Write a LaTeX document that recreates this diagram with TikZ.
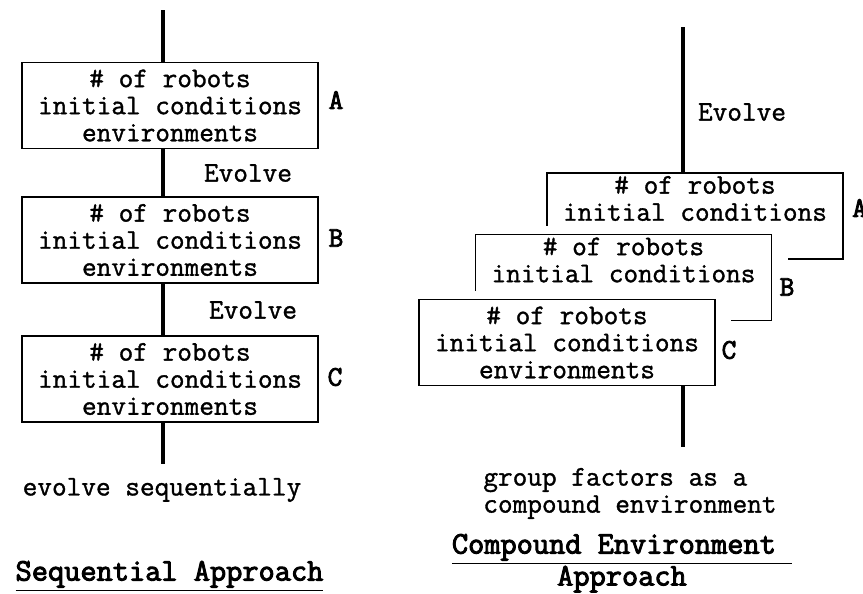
\documentclass[tikz,border=0pt]{standalone}
\usepackage{fontspec}
\setmonofont{Latin Modern Mono}[BoldFont={Latin Modern Mono},
    UprightFeatures={FakeBold=1.2}, BoldFeatures={FakeBold=3}]
\renewcommand{\familydefault}{\ttdefault}
\usepackage {tikz}
\usetikzlibrary {positioning}
\usetikzlibrary{shapes,arrows}
\tikzstyle{block} = [rectangle, draw, fill=white, line width=0.75pt,
    minimum width=5.92cm, minimum height=1.72cm, align=center, inner sep=0pt,
    font=\fontsize{16.2}{15.4}\selectfont]
\tikzstyle{mask} = [rectangle, fill=white, inner sep=0pt,
    minimum width=6.56cm, minimum height=2.08cm]
\tikzstyle{line} = [draw, line width=2.3pt]
\tikzstyle{tag} = [font=\fontsize{16.2}{15.4}\selectfont\bfseries]
\tikzstyle{note} = [font=\fontsize{16.2}{15.4}\selectfont]
\tikzstyle{title} = [font=\fontsize{17.9}{17.1}\selectfont\bfseries, align=center]

\begin{document}
\begin{tikzpicture}[node distance = 2.69cm, auto]
    \useasboundingbox (0,0) rectangle (17.26,-11.86);
    % Sequential approach
    \node [block] (seqa) at (3.40,-2.11) {\# of robots\\initial conditions\\environments};
    \node [block, below of=seqa] (seqb) {\# of robots\\initial conditions\\environments};
    \node [block, below of=seqb, node distance=2.78cm] (seqc) {\# of robots\\initial conditions\\environments};
    \coordinate (seqtop) at (3.26,-0.20);
    \coordinate (seqend) at (3.26,-9.28);
    \node [tag] (taga) at (6.72,-2.00) {A};
    \node [tag] (tagb) at (6.72,-4.76) {B};
    \node [tag] (tagc) at (6.70,-7.54) {C};
    \node [note] (evo1) at (4.96,-3.46) {Evolve};
    \node [note] (evo2) at (5.06,-6.20) {Evolve};
    \node [note] (seqnote) at (3.24,-9.80) {evolve sequentially};
    \node [title] (seqtitle) at (3.39,-11.52) {\underline{Sequential Approach}};

    % Compound environment approach
    \node [block] (cmpa) at (13.90,-4.32) {\# of robots\\initial conditions\\\strut};
    \node [mask] (maskb) at (12.47,-5.55) {};
    \node [block] (cmpb) at (12.47,-5.55) {\# of robots\\initial conditions\\\strut};
    \node [mask] (maskc) at (11.34,-6.85) {};
    \node [block] (cmpc) at (11.34,-6.85) {\# of robots\\initial conditions\\environments};
    \coordinate (cmptop) at (13.66,-0.54);
    \coordinate (cmpend) at (13.66,-8.94);
    \node [tag] (cmptaga) at (17.19,-4.16) {A};
    \node [tag] (cmptagb) at (15.74,-5.74) {B};
    \node [tag] (cmptagc) at (14.58,-7.00) {C};
    \node [note] (evo3) at (14.84,-2.24) {Evolve};
    \node [note, align=left, anchor=west, inner sep=0pt] (cmpnote) at (9.66,-9.87)
        {group factors as a\\compound environment};
    \node [title] (cmptitle) at (12.44,-11.30)
        {\underline{Compound Environment~}\\\underline{Approach}};

    % Draw edges
    \path [line] (seqtop) -- (seqtop |- seqa.north);
    \path [line] (seqa.south -| seqtop) -- (seqb.north -| seqtop);
    \path [line] (seqb.south -| seqtop) -- (seqc.north -| seqtop);
    \path [line] (seqc.south -| seqtop) -- (seqend);
    \path [line] (cmptop) -- (cmptop |- cmpa.north);
    \path [line] (cmpc.south -| cmpend) -- (cmpend);
\end{tikzpicture}
\end{document}
